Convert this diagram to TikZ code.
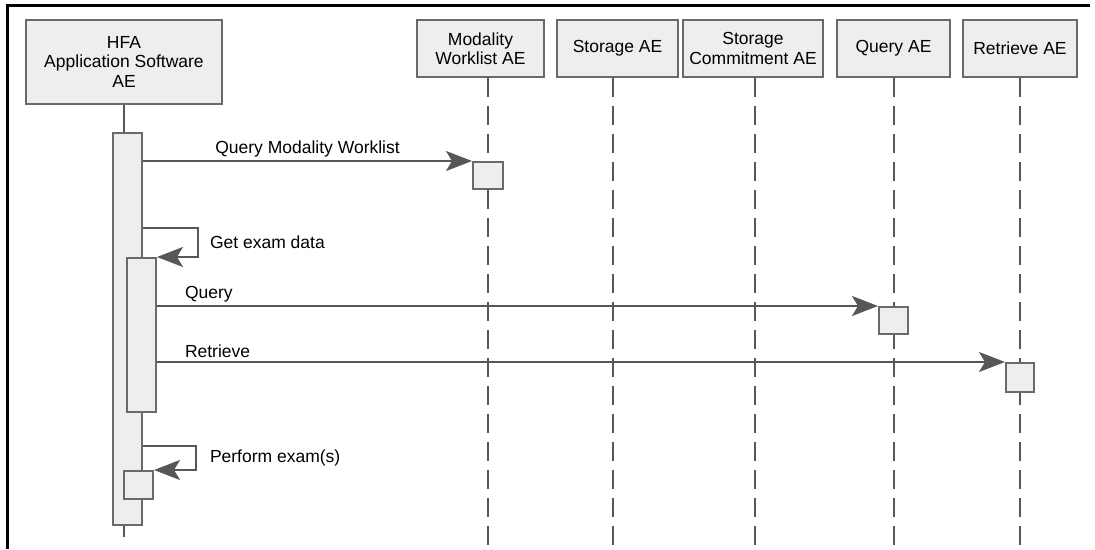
\documentclass[tikz,border=0pt]{standalone}
\usepackage{fontspec}
\setmainfont{Liberation Sans}
\usepackage{xcolor}
\usetikzlibrary{arrows.meta, positioning, calc}

\definecolor{lineGray}{HTML}{575757}
\definecolor{boxGray}{HTML}{6A6A6A}
\definecolor{fillGray}{HTML}{EEEEEE}

\begin{document}
\begin{tikzpicture}[
    x=1pt, y=-1pt,
    head/.style={rectangle, draw=boxGray, fill=fillGray, line width=2pt, align=center, inner sep=0pt,
        minimum height=57pt, font=\fontsize{17.5}{19.5}\selectfont},
    act/.style={rectangle, draw=boxGray, fill=fillGray, line width=2pt, inner sep=0pt},
    lifeline/.style={draw=lineGray, line width=2pt, dash pattern=on 19pt off 9pt},
    msg/.style={draw=lineGray, line width=2pt, -{Stealth[length=26pt, width=20pt, inset=6pt]}, lineGray},
    lbl/.style={font=\fontsize{17.5}{19.5}\selectfont, text=black, inner sep=1pt}
]
\useasboundingbox (0,0) rectangle (1095,549);

% Frame
\draw[line width=3pt, black] (7,549) -- (7,5.5) -- (1090,5.5);

% Lifeline heads
\node[head, minimum width=196pt, minimum height=84pt] (hfa) at (124,61.5) {HFA\\Application Software\\AE};
\node[head, minimum width=127pt] (mwl) at (480.5,48.5) {Modality\\Worklist AE};
\node[head, minimum width=121pt] (storage) at (617.5,48.5) {Storage AE};
\node[head, minimum width=140pt] (commit) at (753,48.5) {Storage\\Commitment AE};
\node[head, minimum width=113pt] (query) at (893.5,48.5) {Query AE};
\node[head, minimum width=114pt] (retrieve) at (1020,48.5) {Retrieve AE};

% Lifeline ends
\coordinate (mwl-end) at (488,549);
\coordinate (storage-end) at (613,549);
\coordinate (commit-end) at (755,549);
\coordinate (query-end) at (894,549);
\coordinate (retrieve-end) at (1020,549);
\coordinate (hfa-end) at (124,537);

% Lifelines
\draw[lifeline] (mwl.south -| mwl-end) -- (mwl-end);
\draw[lifeline] (storage.south -| storage-end) -- (storage-end);
\draw[lifeline] (commit.south -| commit-end) -- (commit-end);
\draw[lifeline] (query.south -| query-end) -- (query-end);
\draw[lifeline] (retrieve.south -| retrieve-end) -- (retrieve-end);
\draw[draw=lineGray, line width=2pt] (hfa.south) -- (hfa-end);

% Activations
\node[act, minimum width=29pt, minimum height=392pt] (bar1) at (127.5,329) {};
\node[act, minimum width=29pt, minimum height=154pt] (bar2) at (141.5,335) {};
\node[act, minimum width=29pt, minimum height=28pt] (perf) at (138.5,485) {};
\node[act, minimum width=30pt, minimum height=27pt] (mwlact) at (488,175.5) {};
\node[act, minimum width=29pt, minimum height=27pt] (queryact) at (893.5,320.5) {};
\node[act, minimum width=28pt, minimum height=29pt] (retrieveact) at (1020,377.5) {};

% Messages
\draw[msg] (bar1.east |- mwlact.north west) -- node[lbl, above=2pt] {Query Modality Worklist} (mwlact.north west);
\draw[msg] ([yshift=29pt]bar2.north east -| bar1.east) -- ++(55,0)
    |- node[lbl, pos=0.25, right=10pt] {Get exam data} (bar2.north east);
\draw[msg] (bar2.east |- queryact.north west) -- node[lbl, pos=0, anchor=south west, xshift=26pt, yshift=2pt] {Query} (queryact.north west);
\draw[msg] (bar2.east |- retrieveact.north west) -- node[lbl, pos=0, anchor=south west, xshift=26pt, yshift=2pt] {Retrieve} (retrieveact.north west);
\draw[msg] ([yshift=24pt]perf.north east -| bar1.east) -- ++(53,0)
    |- node[lbl, pos=0.25, right=12pt] {Perform exam(s)} (perf.north east);

\end{tikzpicture}
\end{document}
